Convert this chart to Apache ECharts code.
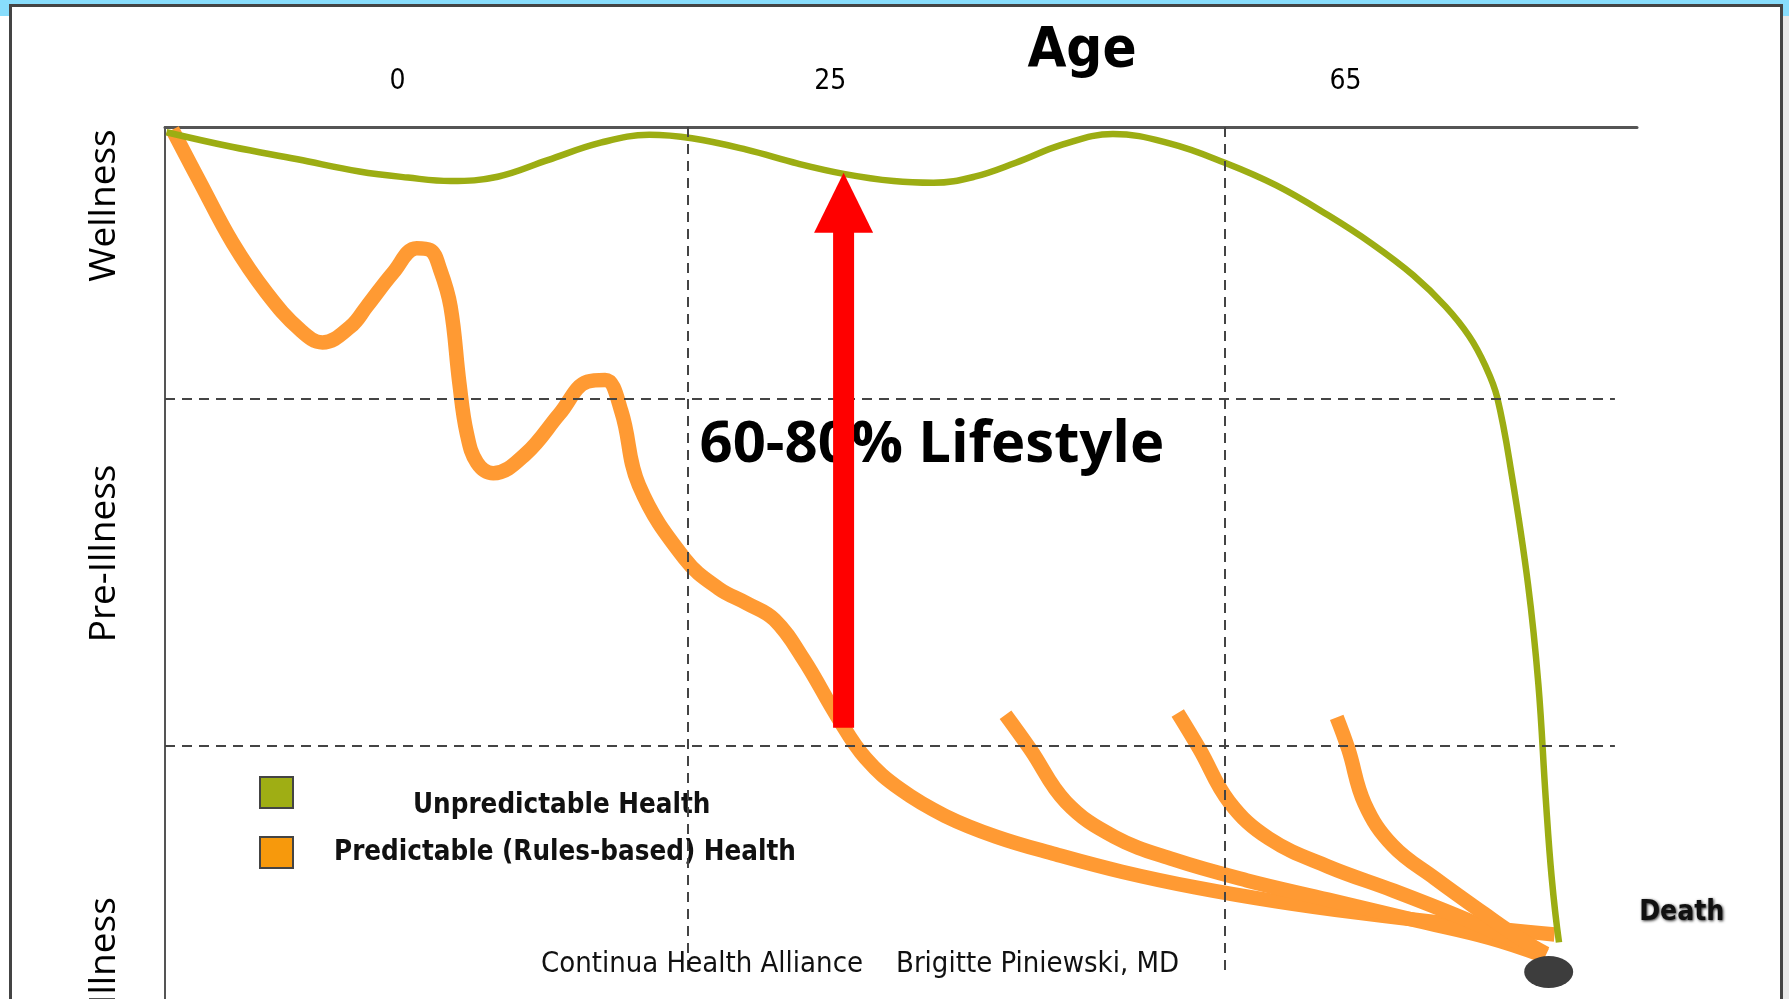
<!DOCTYPE html>
<html>
<head>
<meta charset="utf-8">
<script src="https://cdn.jsdelivr.net/npm/echarts@6/dist/echarts.min.js"></script>
<style>
html,body{margin:0;padding:0;background:#ffffff;overflow:hidden}
#c{width:1789px;height:999px}
</style>
</head>
<body>
<div id="c"></div>
<script>
// ---- data (chart units: x 0..100 along age axis, y 0..100 health level, 100 = top) ----
const xTickPos = [15.8, 45.2, 80.2];
const xTickLabels = ['0', '25', '65'];
const yBandPos = [91.0, 51.1, 5.5];
const yBandLabels = ['Wellness', 'Pre-Illness', 'Illness'];

const unpredictable = [
  [0.1, 99.4], [4.6, 97.7], [9.0, 96.3], [13.2, 94.9], [16.5, 94.2], [19.4, 93.8], [22.6, 94.3],
  [26.0, 96.2], [29.6, 98.2], [32.9, 99.1], [35.8, 98.7], [39.5, 97.4], [43.0, 95.8], [46.2, 94.6],
  [49.5, 93.8], [52.2, 93.6], [55.0, 94.3], [57.8, 95.9], [61.0, 98.0], [64.4, 99.2],
  [68.3, 98.1], [72.0, 95.9], [75.5, 93.3], [79.0, 89.9], [82.0, 86.6], [84.8, 83.0],
  [87.0, 79.4], [88.6, 76.0], [89.7, 72.6], [90.5, 69.0], [91.5, 60.0], [92.6, 47.5],
  [93.3, 36.1], [93.8, 23.0], [94.2, 14.0], [94.7, 6.5]
];
const predictableMain = [
  [0.5, 99.7], [2.4, 93.6], [4.6, 86.7], [6.9, 81.0], [9.2, 76.7], [10.7, 75.3],
  [12.6, 77.1], [13.7, 79.4], [15.5, 83.3], [17.1, 86.1], [18.0, 85.9], [18.7, 83.6],
  [19.4, 79.4], [20.0, 70.6], [20.5, 64.9], [21.2, 61.5], [22.3, 60.3], [24.5, 62.5],
  [26.8, 67.1], [28.7, 70.8], [29.9, 71.0], [31.0, 67.4], [32.2, 58.9], [35.3, 50.5],
  [37.6, 47.1], [39.5, 45.4], [41.4, 43.5], [43.4, 38.9], [45.7, 32.3], [47.6, 27.6],
  [50.0, 24.0], [53.0, 21.0], [56.5, 18.6], [60.5, 16.6], [65.0, 14.6], [70.0, 12.8],
  [75.5, 11.2], [81.0, 9.9], [88.0, 8.5], [94.4, 7.4]
];
const branch1 = [[57.1, 32.6], [58.8, 28.6], [61.2, 22.6], [64.5, 18.6], [68.5, 16.0], [73.5, 13.6], [79.0, 11.4], [85.0, 9.0], [90.0, 7.0], [93.6, 5.0]];
const branch2 = [[68.8, 32.8], [70.3, 28.6], [72.3, 22.6], [75.0, 18.4], [79.0, 15.2], [83.5, 12.4], [88.0, 9.4], [91.5, 6.8], [93.8, 5.0]];
const branch3 = [[79.6, 32.3], [80.4, 28.6], [81.5, 22.4], [83.4, 17.6], [86.3, 13.8], [89.6, 9.8], [92.0, 7.0], [93.8, 5.2]];

const hGuides = [68.8, 29.0];
const vGuides = [35.5, 72.0];
const guideXEnd = 98.5;
const guideYEnd = 2.75;

const arrowX = [46.1];
const arrowShaft = [31.1, 89.0];
const arrowHead = [91.3];
const lifestyleText = ['60-80% Lifestyle'];
const lifestylePos = [52.1, 63.5];
const deathPoint = [94.0, 3.1];
const deathText = ['Death'];
const creditTexts = ['Continua Health Alliance', 'Brigitte Piniewski, MD'];
const axisTitle = ['Age'];
const seriesNames = ['Unpredictable Health', 'Predictable (Rules-based) Health'];

// ---- styles ----
const NARROW = "'Liberation Sans Narrow','DejaVu Sans Condensed','Arial Narrow',sans-serif";
const HUMAN = "'Open Sans','Noto Sans',sans-serif";
const GREEN = '#9cad13', ORANGE = '#ff9a33';

function nearestLabel(v, pos, labels) {
  let best = 0;
  for (let i = 1; i < pos.length; i++) if (Math.abs(pos[i] - v) < Math.abs(pos[best] - v)) best = i;
  return labels[best];
}

const guideLines = [];
hGuides.forEach(y => guideLines.push([{ coord: [0, y] }, { coord: [guideXEnd, y] }]));
vGuides.forEach(x => guideLines.push([{ coord: [x, 100] }, { coord: [x, guideYEnd] }]));

const orangeLine = { color: ORANGE, width: 14.5, cap: 'butt', join: 'round' };
function orangeSeries(data) {
  return { name: seriesNames[1], type: 'line', data, smooth: 0.4, symbol: 'none', z: 2, silent: true,
    lineStyle: orangeLine, itemStyle: { color: ORANGE } };
}

const legendText = { fontFamily: NARROW, fontWeight: 'bold', fontSize: 27.5, color: '#111' };
const legendBase = { orient: 'vertical', padding: 0, itemWidth: 33, itemHeight: 31, selectedMode: false };

const chart = echarts.init(document.getElementById('c'), null, { renderer: 'canvas' });
chart.setOption({
  animation: false,
  backgroundColor: 'transparent',
  grid: { left: 165, right: 152, top: 127, bottom: 0, containLabel: false, outerBoundsMode: 'none' },
  xAxis: {
    type: 'value', position: 'top', min: 0, max: 100,
    axisLine: { show: true, onZero: false, lineStyle: { color: '#555', width: 3 } },
    axisTick: { show: false }, splitLine: { show: false },
    axisLabel: { customValues: xTickPos, formatter: v => nearestLabel(v, xTickPos, xTickLabels),
      fontFamily: NARROW, fontSize: 28, color: '#000', margin: 31 }
  },
  yAxis: {
    type: 'value', min: 0, max: 100,
    axisLine: { show: true, onZero: false, lineStyle: { color: '#555', width: 2 } },
    axisTick: { show: false }, splitLine: { show: false },
    axisLabel: { customValues: yBandPos, formatter: v => nearestLabel(v, yBandPos, yBandLabels),
      rotate: 90, fontFamily: HUMAN, fontSize: 37, color: '#000', margin: 42 }
  },
  legend: [
    // swatch of the green series
    Object.assign({}, legendBase, { left: 259, top: 776, formatter: () => '',
      data: [{ name: seriesNames[0], icon: 'rect', itemStyle: { color: '#9fae14', borderColor: '#444', borderWidth: 2 } }],
      textStyle: legendText }),
    // text of the green series
    Object.assign({}, legendBase, { left: 408, top: 789, itemWidth: 0, itemHeight: 34,
      data: [{ name: seriesNames[0], icon: 'none' }],
      textStyle: legendText }),
    Object.assign({}, legendBase, { left: 259, top: 836,
      data: [{ name: seriesNames[1], icon: 'rect', itemStyle: { color: '#f7990c', borderColor: '#444', borderWidth: 2 } }],
      textStyle: Object.assign({}, legendText, { padding: [0, 0, 0, 36] }) })
  ],
  graphic: [
    { type: 'rect', z: -20, silent: true, shape: { x: 0, y: 0, width: 1789, height: 16 }, style: { fill: '#88ddfc' } },
    { type: 'rect', z: -19, silent: true, shape: { x: 1783, y: 16, width: 6, height: 983 }, style: { fill: '#e8e8e8' } },
    { type: 'rect', z: -18, silent: true, shape: { x: 10.5, y: 5.5, width: 1771, height: 1010 }, style: { fill: '#ffffff', stroke: '#444', lineWidth: 3 } },
    { type: 'text', z: 10, silent: true, x: 1082, y: 51, style: { text: axisTitle[0], fontFamily: NARROW, fontWeight: 'bold', fontSize: 56, fill: '#000', align: 'center', verticalAlign: 'middle' } },
    { type: 'text', z: 10, silent: true, x: 541, y: 964, style: { text: creditTexts[0], fontFamily: NARROW, fontSize: 29, fill: '#111', align: 'left', verticalAlign: 'middle' } },
    { type: 'text', z: 10, silent: true, x: 896, y: 964, style: { text: creditTexts[1], fontFamily: NARROW, fontSize: 29, fill: '#111', align: 'left', verticalAlign: 'middle' } }
  ],
  series: [
    orangeSeries(predictableMain),
    orangeSeries(branch1),
    orangeSeries(branch2),
    orangeSeries(branch3),
    { name: seriesNames[0], type: 'line', data: unpredictable, smooth: 0.4, symbol: 'none', z: 3, silent: true,
      lineStyle: { color: GREEN, width: 6.5, cap: 'butt', join: 'round' }, itemStyle: { color: GREEN } },
    { name: 'lifestyle', type: 'scatter', data: [lifestylePos], symbol: 'circle', symbolSize: 1, z: 4, silent: true,
      itemStyle: { color: 'transparent', opacity: 1 },
      label: { show: true, position: 'inside', formatter: lifestyleText[0], fontFamily: HUMAN, fontWeight: 'bold', fontSize: 58, color: '#000', opacity: 1 } },
    { name: 'guides', type: 'line', data: [], z: 5, silent: true,
      markLine: { silent: true, symbol: ['none', 'none'], label: { show: false },
        lineStyle: { type: [10, 7], color: '#444', width: 2 }, data: guideLines } },
    { name: 'arrowShaft', type: 'line', data: arrowShaft.map(y => [arrowX[0], y]), symbol: 'none', z: 6, silent: true,
      lineStyle: { color: '#ff0000', width: 21, cap: 'butt' } },
    { name: 'arrowHead', type: 'scatter', data: arrowHead.map(y => [arrowX[0], y]), symbol: 'triangle', symbolSize: [59, 60], z: 6, silent: true,
      itemStyle: { color: '#ff0000', opacity: 1 } },
    { name: 'death', type: 'scatter', data: [deathPoint], symbol: 'circle', symbolSize: [49, 32], z: 7, silent: true, clip: false,
      itemStyle: { color: '#3d3d3d', opacity: 1 },
      label: { show: true, position: 'inside', offset: [133, -59], formatter: deathText[0], fontFamily: NARROW, fontWeight: 'bold', fontSize: 28, color: '#111',
        textShadowColor: 'rgba(0,0,0,0.85)', textShadowBlur: 3, textShadowOffsetX: 1, textShadowOffsetY: 1 } }
  ]
});
</script>
</body>
</html>
